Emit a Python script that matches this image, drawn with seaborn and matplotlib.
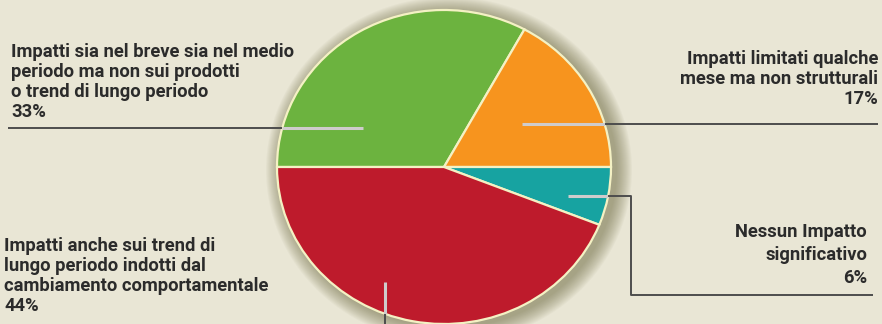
import matplotlib
matplotlib.use("Agg")
import matplotlib.pyplot as plt
from matplotlib.patches import Ellipse
import seaborn as sns

# ---- data ----
categories = [
    "Impatti sia nel breve sia nel medio\nperiodo ma non sui prodotti\no trend di lungo periodo",
    "Impatti limitati qualche\nmese ma non strutturali",
    "Nessun Impatto\nsignificativo",
    "Impatti anche sui trend di\nlungo periodo indotti dal\ncambiamento comportamentale",
]
values = [33, 17, 6, 44]
slice_colors = ["#6cb33f", "#f7941e", "#17a3a1", "#be1b2c"]

# ---- style ----
sns.set_theme(style="white")
plt.rcParams["font.family"] = ["Roboto", "DejaVu Sans"]

BG = "#e9e6d5"
W, H = 882, 324
fig = plt.figure(figsize=(W / 100, H / 100), dpi=100, facecolor=BG)

# background axes in pixel coordinates (shadow)
ax_bg = fig.add_axes([0, 0, 1, 1], zorder=0)
ax_bg.set_xlim(0, W)
ax_bg.set_ylim(H, 0)
ax_bg.set_facecolor(BG)
ax_bg.axis("off")

CX, CY, RX, RY = 444, 167, 167, 157
for k in range(16, 0, -1):
    ax_bg.add_patch(Ellipse((CX + 5, CY + 3), 2 * (RX + k), 2 * (RY + k),
                            facecolor="#66643a", edgecolor="none", alpha=0.038))

# pie axes (elliptical)
ax_pie = fig.add_axes([(CX - RX) / W, (H - (CY + RY)) / H, 2 * RX / W, 2 * RY / H], zorder=1)
ax_pie.pie(values, colors=slice_colors, startangle=180, counterclock=False,
           radius=1.0, wedgeprops=dict(edgecolor="#f4f1c4", linewidth=1.6))
ax_pie.set_aspect("auto")
ax_pie.set_xlim(-1, 1)
ax_pie.set_ylim(-1, 1)
ax_pie.patch.set_visible(False)
ax_pie.axis("off")

# overlay axes for leader lines and text (pixel coordinates)
ax = fig.add_axes([0, 0, 1, 1], zorder=2)
ax.set_xlim(0, W)
ax.set_ylim(H, 0)
ax.patch.set_visible(False)
ax.axis("off")

LIGHT = dict(color="#cfcccc", lw=2.2, solid_capstyle="butt")
DARK = dict(color="#4d4d4d", lw=1.4, solid_capstyle="butt")

# green leader
ax.plot([282, 363], [128, 128], **LIGHT)
ax.plot([8, 282], [128, 128], **DARK)
# orange leader
ax.plot([522, 605], [124, 124], **LIGHT)
ax.plot([605, 878], [124, 124], **DARK)
# teal leader
ax.plot([568, 608], [196, 196], **LIGHT)
ax.plot([608, 631, 631, 873], [196, 196, 295, 295], **DARK)
# red leader
ax.plot([385, 385], [282, 314], **LIGHT)
ax.plot([385, 385], [314, 324], **DARK)

TXT = dict(fontsize=13.2, fontweight="bold", color="#2b2b2b")
label_pos = [
    (11, 57, "left", 19.9),
    (878, 64, "right", 20.0),
    (867, 237, "right", 23.0),
    (4, 251, "left", 20.0),
]
for cat, val, (x, y0, ha, step) in zip(categories, values, label_pos):
    lines = cat.split("\n") + [f"{val}%"]
    for i, line in enumerate(lines):
        ax.text(x, y0 + i * step, line, ha=ha, va="baseline", **TXT)

fig.savefig("out.png", dpi=100, facecolor=BG)
